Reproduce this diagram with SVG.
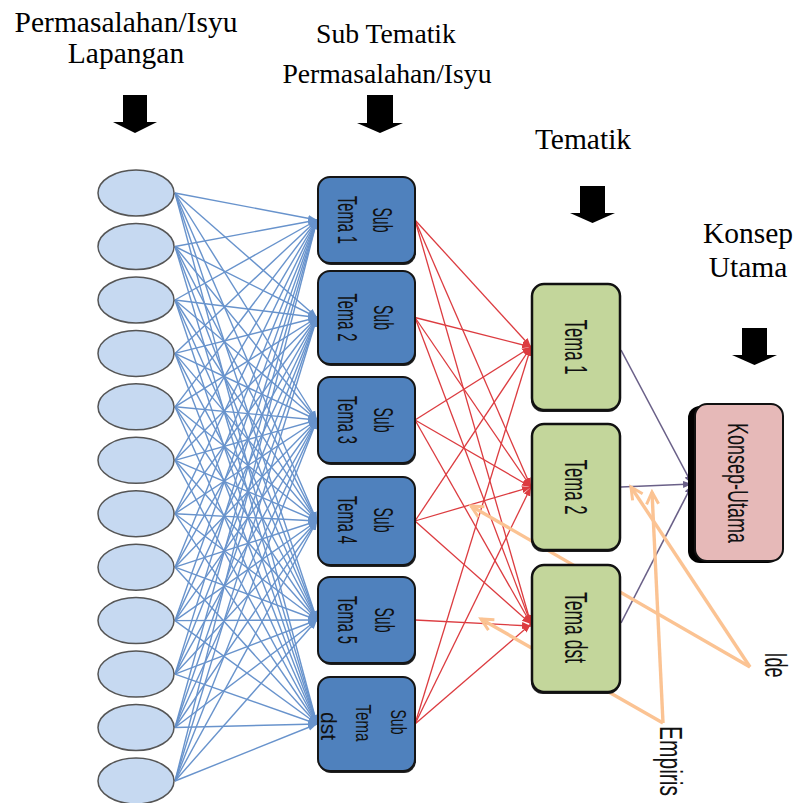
<svg xmlns="http://www.w3.org/2000/svg" width="797" height="803" viewBox="0 0 797 803">
<style>
.hd{font-family:"Liberation Serif","Times New Roman",serif;fill:#000;text-anchor:middle}
.rt{font-family:"Liberation Sans Narrow","Liberation Sans",Arial,sans-serif;fill:#111;text-anchor:middle}
.ell{fill:#c6d9f1;stroke:#555;stroke-width:1.5}
.sub{fill:#4f81bd;stroke:#151515;stroke-width:2}
.tema{fill:#c3d69b;stroke:#111;stroke-width:2.5}
.shd{fill:#222}
.bl{stroke:#6893cc;stroke-width:1.4;fill:none;marker-end:url(#mb)}
.rd{stroke:#dc3c40;stroke-width:1.3;fill:none;marker-end:url(#mr)}
.pu{stroke:#6a6088;stroke-width:1.6;fill:none;marker-end:url(#mp)}
.or{stroke:#fbc393;stroke-width:3.4;fill:none;marker-end:url(#mo)}
</style>
<defs>
<marker id="mb" markerUnits="userSpaceOnUse" markerWidth="10" markerHeight="8" refX="9" refY="4" orient="auto"><path d="M0,0.5 L9,4 L0,7.5 z" fill="#6893cc"/></marker>
<marker id="mr" markerUnits="userSpaceOnUse" markerWidth="10" markerHeight="8" refX="9" refY="4" orient="auto"><path d="M0,0.5 L9,4 L0,7.5 z" fill="#dc3c40"/></marker>
<marker id="mp" markerUnits="userSpaceOnUse" markerWidth="10" markerHeight="8" refX="9" refY="4" orient="auto"><path d="M0,0.5 L9,4 L0,7.5 z" fill="#6a6088"/></marker>
<marker id="mo" markerUnits="userSpaceOnUse" markerWidth="16" markerHeight="16" refX="13" refY="8" orient="auto"><path d="M1,2 L13,8 L1,14" fill="none" stroke="#fbc393" stroke-width="3" stroke-linejoin="miter"/></marker>
</defs>

<g id="headers">
<text class="hd" x="126" y="32" font-size="29.5">Permasalahan/Isyu</text>
<text class="hd" x="126" y="63" font-size="29.5">Lapangan</text>
<text class="hd" x="386" y="43" font-size="27.7">Sub Tematik</text>
<text class="hd" x="387" y="83" font-size="27.7">Permasalahan/Isyu</text>
<text class="hd" x="583" y="149" font-size="29.5">Tematik</text>
<text class="hd" x="748" y="243" font-size="29.5">Konsep</text>
<text class="hd" x="748" y="277" font-size="29.5">Utama</text>
<polygon points="123,95 147,95 147,122 157,122 135,133 113,122 123,122" fill="#000"/>
<polygon points="367,95 393,95 393,123 403,123 380,133 357,123 367,123" fill="#000"/>
<polygon points="580,186 605,186 605,213 615,213 592.5,223 570,213 580,213" fill="#000"/>
<polygon points="742,328 767,328 767,355 777,355 754.5,365 732,355 742,355" fill="#000"/>
</g>

<g id="connectors">
<g id="blue">
<line class="bl" x1="175" y1="193" x2="317" y2="220"/><line class="bl" x1="175" y1="193" x2="317" y2="317.5"/><line class="bl" x1="175" y1="193" x2="317" y2="420"/><line class="bl" x1="175" y1="193" x2="317" y2="521"/><line class="bl" x1="175" y1="193" x2="317" y2="620"/><line class="bl" x1="175" y1="193" x2="317" y2="724"/>
<line class="bl" x1="175" y1="246.5" x2="317" y2="220"/><line class="bl" x1="175" y1="246.5" x2="317" y2="317.5"/><line class="bl" x1="175" y1="246.5" x2="317" y2="420"/><line class="bl" x1="175" y1="246.5" x2="317" y2="521"/><line class="bl" x1="175" y1="246.5" x2="317" y2="620"/><line class="bl" x1="175" y1="246.5" x2="317" y2="724"/>
<line class="bl" x1="175" y1="300" x2="317" y2="220"/><line class="bl" x1="175" y1="300" x2="317" y2="317.5"/><line class="bl" x1="175" y1="300" x2="317" y2="420"/><line class="bl" x1="175" y1="300" x2="317" y2="521"/><line class="bl" x1="175" y1="300" x2="317" y2="620"/><line class="bl" x1="175" y1="300" x2="317" y2="724"/>
<line class="bl" x1="175" y1="353.4" x2="317" y2="220"/><line class="bl" x1="175" y1="353.4" x2="317" y2="317.5"/><line class="bl" x1="175" y1="353.4" x2="317" y2="420"/><line class="bl" x1="175" y1="353.4" x2="317" y2="521"/><line class="bl" x1="175" y1="353.4" x2="317" y2="620"/><line class="bl" x1="175" y1="353.4" x2="317" y2="724"/>
<line class="bl" x1="175" y1="406.8" x2="317" y2="220"/><line class="bl" x1="175" y1="406.8" x2="317" y2="317.5"/><line class="bl" x1="175" y1="406.8" x2="317" y2="420"/><line class="bl" x1="175" y1="406.8" x2="317" y2="521"/><line class="bl" x1="175" y1="406.8" x2="317" y2="620"/><line class="bl" x1="175" y1="406.8" x2="317" y2="724"/>
<line class="bl" x1="175" y1="460.3" x2="317" y2="220"/><line class="bl" x1="175" y1="460.3" x2="317" y2="317.5"/><line class="bl" x1="175" y1="460.3" x2="317" y2="420"/><line class="bl" x1="175" y1="460.3" x2="317" y2="521"/><line class="bl" x1="175" y1="460.3" x2="317" y2="620"/><line class="bl" x1="175" y1="460.3" x2="317" y2="724"/>
<line class="bl" x1="175" y1="513.7" x2="317" y2="220"/><line class="bl" x1="175" y1="513.7" x2="317" y2="317.5"/><line class="bl" x1="175" y1="513.7" x2="317" y2="420"/><line class="bl" x1="175" y1="513.7" x2="317" y2="521"/><line class="bl" x1="175" y1="513.7" x2="317" y2="620"/><line class="bl" x1="175" y1="513.7" x2="317" y2="724"/>
<line class="bl" x1="175" y1="567.2" x2="317" y2="220"/><line class="bl" x1="175" y1="567.2" x2="317" y2="317.5"/><line class="bl" x1="175" y1="567.2" x2="317" y2="420"/><line class="bl" x1="175" y1="567.2" x2="317" y2="521"/><line class="bl" x1="175" y1="567.2" x2="317" y2="620"/><line class="bl" x1="175" y1="567.2" x2="317" y2="724"/>
<line class="bl" x1="175" y1="620.6" x2="317" y2="220"/><line class="bl" x1="175" y1="620.6" x2="317" y2="317.5"/><line class="bl" x1="175" y1="620.6" x2="317" y2="420"/><line class="bl" x1="175" y1="620.6" x2="317" y2="521"/><line class="bl" x1="175" y1="620.6" x2="317" y2="620"/><line class="bl" x1="175" y1="620.6" x2="317" y2="724"/>
<line class="bl" x1="175" y1="674.1" x2="317" y2="220"/><line class="bl" x1="175" y1="674.1" x2="317" y2="317.5"/><line class="bl" x1="175" y1="674.1" x2="317" y2="420"/><line class="bl" x1="175" y1="674.1" x2="317" y2="521"/><line class="bl" x1="175" y1="674.1" x2="317" y2="620"/><line class="bl" x1="175" y1="674.1" x2="317" y2="724"/>
<line class="bl" x1="175" y1="727.5" x2="317" y2="220"/><line class="bl" x1="175" y1="727.5" x2="317" y2="317.5"/><line class="bl" x1="175" y1="727.5" x2="317" y2="420"/><line class="bl" x1="175" y1="727.5" x2="317" y2="521"/><line class="bl" x1="175" y1="727.5" x2="317" y2="620"/><line class="bl" x1="175" y1="727.5" x2="317" y2="724"/>
<line class="bl" x1="175" y1="781" x2="317" y2="220"/><line class="bl" x1="175" y1="781" x2="317" y2="317.5"/><line class="bl" x1="175" y1="781" x2="317" y2="420"/><line class="bl" x1="175" y1="781" x2="317" y2="521"/><line class="bl" x1="175" y1="781" x2="317" y2="620"/><line class="bl" x1="175" y1="781" x2="317" y2="724"/>
</g>
<g id="red">
<line class="rd" x1="415" y1="220" x2="531" y2="347"/><line class="rd" x1="415" y1="220" x2="531" y2="487"/><line class="rd" x1="415" y1="220" x2="531" y2="624"/>
<line class="rd" x1="415" y1="317.5" x2="531" y2="347"/><line class="rd" x1="415" y1="317.5" x2="531" y2="487"/><line class="rd" x1="415" y1="317.5" x2="531" y2="624"/>
<line class="rd" x1="415" y1="420" x2="531" y2="347"/><line class="rd" x1="415" y1="420" x2="531" y2="487"/><line class="rd" x1="415" y1="420" x2="531" y2="624"/>
<line class="rd" x1="415" y1="521" x2="531" y2="347"/><line class="rd" x1="415" y1="521" x2="531" y2="487"/><line class="rd" x1="415" y1="521" x2="531" y2="624"/>
<line class="rd" x1="415" y1="620" x2="531" y2="626"/>
<line class="rd" x1="415" y1="724" x2="531" y2="347"/><line class="rd" x1="415" y1="724" x2="531" y2="487"/><line class="rd" x1="415" y1="724" x2="531" y2="624"/>
</g>
<g id="purple">
<line class="pu" x1="621" y1="350" x2="692" y2="484"/>
<line class="pu" x1="621" y1="487" x2="692" y2="484"/>
<line class="pu" x1="621" y1="623" x2="692" y2="485"/>
</g>
<g id="orange">
<line class="or" x1="750" y1="667" x2="631" y2="487"/>
<line class="or" x1="750" y1="667" x2="471" y2="506"/>
<line class="or" x1="663" y1="723" x2="652" y2="492"/>
<line class="or" x1="663" y1="723" x2="481" y2="619"/>
</g>
</g>

<g id="ellipses">
<ellipse id="e1" class="ell" cx="136" cy="193" rx="38" ry="23"/>
<ellipse id="e2" class="ell" cx="136" cy="246.5" rx="38" ry="23"/>
<ellipse id="e3" class="ell" cx="136" cy="300" rx="38" ry="23"/>
<ellipse id="e4" class="ell" cx="136" cy="353.4" rx="38" ry="23"/>
<ellipse id="e5" class="ell" cx="136" cy="406.8" rx="38" ry="23"/>
<ellipse id="e6" class="ell" cx="136" cy="460.3" rx="38" ry="23"/>
<ellipse id="e7" class="ell" cx="136" cy="513.7" rx="38" ry="23"/>
<ellipse id="e8" class="ell" cx="136" cy="567.2" rx="38" ry="23"/>
<ellipse id="e9" class="ell" cx="136" cy="620.6" rx="38" ry="23"/>
<ellipse id="e10" class="ell" cx="136" cy="674.1" rx="38" ry="23"/>
<ellipse id="e11" class="ell" cx="136" cy="727.5" rx="38" ry="23"/>
<ellipse id="e12" class="ell" cx="136" cy="781" rx="38" ry="23"/>
</g>

<g id="sub1"><rect class="shd" x="319" y="179" width="97" height="86" rx="12"/><rect class="sub" x="318" y="177" width="97" height="86" rx="12"/>
<text class="rt" font-size="27" textLength="25" lengthAdjust="spacingAndGlyphs" transform="translate(373,220) rotate(90)">Sub</text>
<text class="rt" font-size="27" textLength="48" lengthAdjust="spacingAndGlyphs" transform="translate(338,220) rotate(90)">Tema 1</text></g>
<g id="sub2"><rect class="shd" x="319" y="273" width="97" height="93" rx="12"/><rect class="sub" x="318" y="271" width="97" height="93" rx="12"/>
<text class="rt" font-size="27" textLength="25" lengthAdjust="spacingAndGlyphs" transform="translate(374,317.5) rotate(90)">Sub</text>
<text class="rt" font-size="27" textLength="48" lengthAdjust="spacingAndGlyphs" transform="translate(338,317.5) rotate(90)">Tema 2</text></g>
<g id="sub3"><rect class="shd" x="319" y="379" width="97" height="86" rx="12"/><rect class="sub" x="318" y="377" width="97" height="86" rx="12"/>
<text class="rt" font-size="27" textLength="25" lengthAdjust="spacingAndGlyphs" transform="translate(374,420) rotate(90)">Sub</text>
<text class="rt" font-size="27" textLength="48" lengthAdjust="spacingAndGlyphs" transform="translate(338,420) rotate(90)">Tema 3</text></g>
<g id="sub4"><rect class="shd" x="319" y="479" width="97" height="88" rx="12"/><rect class="sub" x="318" y="477" width="97" height="88" rx="12"/>
<text class="rt" font-size="27" textLength="25" lengthAdjust="spacingAndGlyphs" transform="translate(374,520) rotate(90)">Sub</text>
<text class="rt" font-size="27" textLength="48" lengthAdjust="spacingAndGlyphs" transform="translate(338,520) rotate(90)">Tema 4</text></g>
<g id="sub5"><rect class="shd" x="319" y="579" width="97" height="86" rx="12"/><rect class="sub" x="318" y="577" width="97" height="86" rx="12"/>
<text class="rt" font-size="27" textLength="25" lengthAdjust="spacingAndGlyphs" transform="translate(375,620) rotate(90)">Sub</text>
<text class="rt" font-size="27" textLength="48" lengthAdjust="spacingAndGlyphs" transform="translate(338,620) rotate(90)">Tema 5</text></g>
<g id="sub6"><rect class="shd" x="319" y="679" width="97" height="94" rx="12"/><rect class="sub" x="318" y="677" width="97" height="94" rx="12"/>
<text class="rt" font-size="22" textLength="25" lengthAdjust="spacingAndGlyphs" transform="translate(391,722) rotate(90)">Sub</text>
<text class="rt" font-size="22" textLength="37" lengthAdjust="spacingAndGlyphs" transform="translate(356,723) rotate(90)">Tema</text>
<text class="rt" font-size="22" textLength="28" lengthAdjust="spacingAndGlyphs" transform="translate(321,726) rotate(90)">dst</text></g>

<g id="tema1"><rect class="shd" x="531" y="286" width="89" height="126" rx="12"/><rect class="tema" x="532" y="284" width="88" height="126" rx="12"/>
<text class="rt" font-size="32" textLength="55" lengthAdjust="spacingAndGlyphs" transform="translate(565,347) rotate(90)">Tema 1</text></g>
<g id="tema2"><rect class="shd" x="531" y="426" width="89" height="126" rx="12"/><rect class="tema" x="532" y="424" width="88" height="126" rx="12"/>
<text class="rt" font-size="32" textLength="55" lengthAdjust="spacingAndGlyphs" transform="translate(565,487) rotate(90)">Tema 2</text></g>
<g id="tema3"><rect class="shd" x="531" y="567" width="89" height="127" rx="12"/><rect class="tema" x="532" y="565" width="88" height="127" rx="12"/>
<text class="rt" font-size="32" textLength="71" lengthAdjust="spacingAndGlyphs" transform="translate(565,627.5) rotate(90)">Tema dst</text></g>

<g id="konsep"><rect x="688" y="406" width="92" height="157" rx="12" fill="#000"/><rect x="695" y="404" width="88" height="157" rx="12" fill="#e6b9b8" stroke="#111" stroke-width="2"/>
<text class="rt" font-size="30" textLength="120" lengthAdjust="spacingAndGlyphs" transform="translate(728,483) rotate(90)">Konsep-Utama</text></g>

<g id="ide"><text class="rt" font-size="32" textLength="25" lengthAdjust="spacingAndGlyphs" transform="translate(765,665) rotate(90)">Ide</text></g>
<g id="empiris"><text class="rt" font-size="21" transform="translate(660,761) rotate(90) scale(1,1.45)">Empiris</text></g>
</svg>
